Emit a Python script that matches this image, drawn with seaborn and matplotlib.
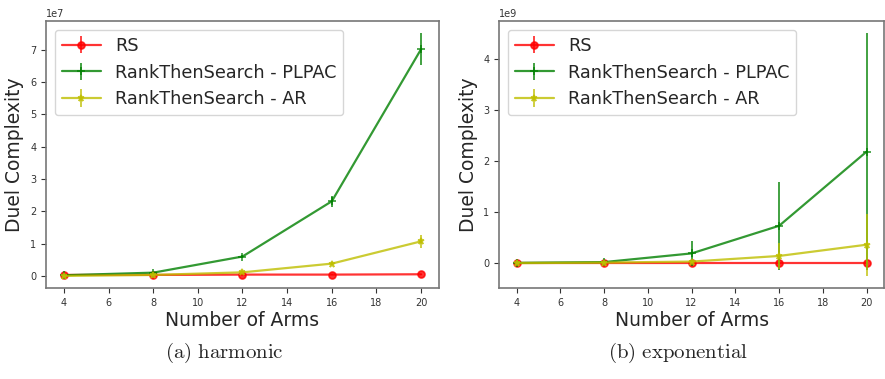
import numpy as np
import pandas as pd
import matplotlib
matplotlib.use("Agg")
import matplotlib.pyplot as plt
import seaborn as sns
from matplotlib.container import ErrorbarContainer

arms = [4, 8, 12, 16, 20]
series_names = ["RS", "RankThenSearch - PLPAC", "RankThenSearch - AR"]

# harmonic (units of 1e7)
harm_rs = [0.03, 0.03, 0.04, 0.04, 0.05]
harm_rs_err = [0.01, 0.01, 0.01, 0.01, 0.01]
harm_plpac = [0.02, 0.10, 0.60, 2.31, 7.02]
harm_plpac_err = [0.01, 0.03, 0.06, 0.17, 0.50]
harm_ar = [0.00, 0.03, 0.11, 0.38, 1.07]
harm_ar_err = [0.00, 0.01, 0.02, 0.05, 0.20]

# exponential (units of 1e9)
exp_rs = [0.0, 0.0, 0.0, 0.0, 0.0]
exp_rs_err = [0.005, 0.005, 0.005, 0.005, 0.005]
exp_plpac = [0.005, 0.02, 0.19, 0.73, 2.18]
exp_plpac_err = [0.005, 0.02, 0.25, 0.86, 2.32]
exp_ar = [0.0, 0.01, 0.03, 0.14, 0.36]
exp_ar_err = [0.0, 0.01, 0.02, 0.25, 0.61]

colors = ["#ff0000", "#008000", "#bfbf00"]
markers = ["o", "+", "*"]
msizes = [5, 6, 5]

sns.set_style("white")
plt.rcParams["font.family"] = ["DejaVu Sans"]
plt.rcParams["mathtext.fontset"] = "cm"

fig = plt.figure(figsize=(8.85, 3.79), dpi=100)
ax1 = fig.add_axes([0.052, 0.24, 0.444, 0.705])
ax2 = fig.add_axes([0.564, 0.24, 0.435, 0.705])

panels = [
    (ax1, [harm_rs, harm_plpac, harm_ar], [harm_rs_err, harm_plpac_err, harm_ar_err], 1e7),
    (ax2, [exp_rs, exp_plpac, exp_ar], [exp_rs_err, exp_plpac_err, exp_ar_err], 1e9),
]

for ax, ys, errs, scale in panels:
    handles = []
    for name, y, e, c, m, ms in zip(series_names, ys, errs, colors, markers, msizes):
        yv = np.array(y) * scale
        ev = np.array(e) * scale
        df = pd.DataFrame({"arms": arms, "val": yv})
        sns.lineplot(data=df, x="arms", y="val", ax=ax, color=c, marker=m,
                     markersize=ms, linewidth=1.6, legend=False, alpha=0.8,
                     markeredgecolor=c, markeredgewidth=1.2)
        line = ax.lines[-1]
        eb = ax.errorbar(arms, yv, yerr=ev, fmt="none", ecolor=c, elinewidth=1.3, alpha=0.8)
        handles.append(ErrorbarContainer((line, (), eb.lines[2]), has_xerr=False,
                                         has_yerr=True, label=name))
    ax.set_xticks([4, 6, 8, 10, 12, 14, 16, 18, 20])
    ax.tick_params(axis="both", labelsize=7, length=3.5, width=0.8, colors="#333333",
                   direction="out", bottom=True, left=True)
    for sp in ax.spines.values():
        sp.set_color("#777777")
        sp.set_linewidth(1.2)
    ax.set_xlabel("Number of Arms", fontsize=13.5, labelpad=2)
    ax.set_ylabel("Duel Complexity", fontsize=13.5, labelpad=4)
    ax.yaxis.get_offset_text().set_fontsize(7)
    ax.legend(handles=handles, labels=series_names, loc="upper left", fontsize=12.7,
              frameon=True, handlelength=2.2, borderaxespad=0.5)

fig.text(0.254, 0.068, r"$\mathrm{(a)\ harmonic}$", ha="center", va="center", fontsize=15)
fig.text(0.766, 0.068, r"$\mathrm{(b)\ exponential}$", ha="center", va="center", fontsize=15)

fig.savefig("out.png", dpi=100)
